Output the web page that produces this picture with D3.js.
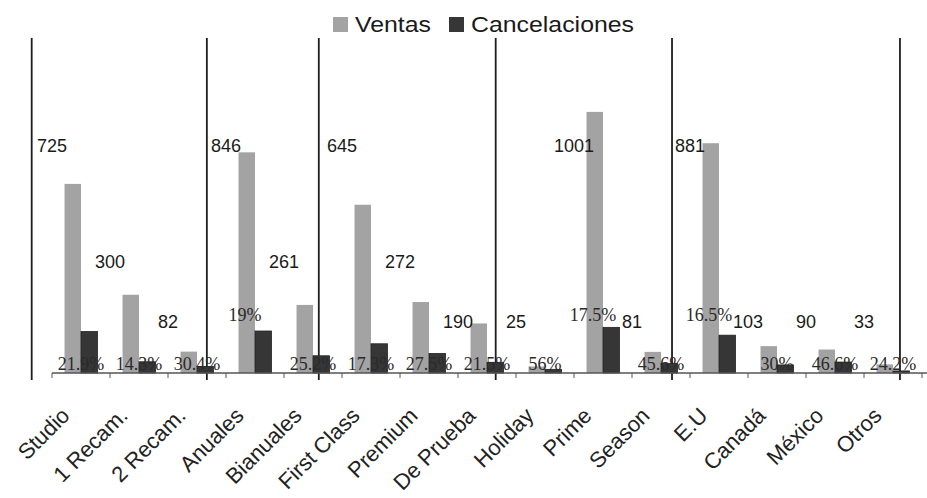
<!DOCTYPE html>
<html>
<head>
<meta charset="utf-8">
<script src="https://cdn.jsdelivr.net/npm/d3@7/dist/d3.min.js"></script>
<style>
  html, body { margin: 0; padding: 0; background: #ffffff; }
  svg { display: block; }
</style>
</head>
<body>
<svg id="chart" width="927" height="498"></svg>
<script>
// Categorías y series
const categorias = ["Studio", "1 Recam.", "2 Recam.", "Anuales", "Bianuales", "First Class",
  "Premium", "De Prueba", "Holiday", "Prime", "Season", "E.U", "Canadá", "México", "Otros"];
const ventas = [725, 300, 82, 846, 261, 645, 272, 190, 25, 1001, 81, 881, 103, 90, 33];
const cancelaciones = [159, 43, 25, 161, 66, 112, 75, 41, 14, 175, 37, 145, 31, 42, 8];
const porcentajes = ["21.9%", "14.3%", "30.4%", "19%", "25.2%", "17.3%", "27.5%", "21.5%",
  "56%", "17.5%", "45.6%", "16.5%", "30%", "46.6%", "24.2%"];
// Límites de grupo, en unidades de categoría
const separadores = [-0.35, 2.67, 4.6, 7.65, 10.69, 14.62];
const series = ["Ventas", "Cancelaciones"];

const svg = d3.select("#chart");
const color = d3.scaleOrdinal().domain(series).range(["#a3a3a3", "#363636"]);

const x = d3.scaleBand().domain(categorias).range([52, 922]).padding(0);
const xs = d3.scaleBand().domain(series).range([0, x.step()]).paddingInner(0).paddingOuter(0.76);
const xu = d3.scaleLinear().domain([0, categorias.length]).range([52, 922]);
const y = d3.scaleLinear().domain([0, 1200]).range([373, 60]);

// Líneas de separación de grupos
svg.append("g").selectAll("line").data(separadores).join("line")
  .attr("x1", d => xu(d)).attr("x2", d => xu(d))
  .attr("y1", 38).attr("y2", 380)
  .attr("stroke", "#1e1e1e").attr("stroke-width", 1.8);

// Barras
const filas = categorias.map((c, i) => ({ c, i, vals: [
  { s: "Ventas", v: ventas[i] }, { s: "Cancelaciones", v: cancelaciones[i] }] }));

const grupos = svg.append("g").selectAll("g").data(filas).join("g")
  .attr("transform", d => `translate(${x(d.c)},0)`);
grupos.selectAll("rect").data(d => d.vals).join("rect")
  .attr("x", d => xs(d.s)).attr("width", xs.bandwidth())
  .attr("y", d => y(d.v)).attr("height", d => y(0) - y(d.v))
  .attr("fill", d => color(d.s))
  .attr("stroke", d => d.s === "Cancelaciones" ? "#222" : "none")
  .attr("stroke-width", 0.8);

// Eje X
const eje = svg.append("g");
eje.append("line").attr("x1", 52).attr("x2", 927).attr("y1", y(0)).attr("y2", y(0))
  .attr("stroke", "#555").attr("stroke-width", 1.3);
eje.selectAll("line.tick").data(d3.range(categorias.length + 1)).join("line")
  .attr("class", "tick")
  .attr("x1", d => xu(d)).attr("x2", d => xu(d))
  .attr("y1", y(0)).attr("y2", y(0) + 5)
  .attr("stroke", "#555").attr("stroke-width", 1);
eje.selectAll("text").data(categorias).join("text")
  .attr("transform", d => `translate(${x(d) + x.bandwidth() / 2 - 10},${y(0) + 44}) rotate(-45)`)
  .attr("text-anchor", "end")
  .attr("font-family", "Liberation Sans, Arial, sans-serif")
  .attr("font-size", 22).attr("fill", "#222")
  .text(d => d);

// Etiquetas de ventas (niveles según magnitud)
const nivel = v => v >= 600 ? 847 : v >= 200 ? 403 : 173;
svg.append("g").selectAll("text").data(filas).join("text")
  .attr("x", d => x(d.c)).attr("y", d => y(nivel(ventas[d.i])))
  .attr("text-anchor", "middle")
  .attr("font-family", "Liberation Sans, Arial, sans-serif")
  .attr("font-size", 18).attr("fill", "#1a1a1a")
  .text(d => ventas[d.i]);

// Porcentaje de cancelación
svg.append("g").selectAll("text").data(filas).join("text")
  .attr("x", d => x(d.c) + x.bandwidth() / 2 + (ventas[d.i] > 800 ? -10 : 0))
  .attr("y", d => ventas[d.i] > 800 ? 321 : 370)
  .attr("text-anchor", "middle")
  .attr("font-family", "Liberation Serif, Times New Roman, serif")
  .attr("font-size", 18).attr("fill", "#2a2a2a")
  .text(d => porcentajes[d.i]);

// Leyenda
const leyenda = svg.append("g");
const posLeyenda = [{ s: "Ventas", x: 333 }, { s: "Cancelaciones", x: 449 }];
const item = leyenda.selectAll("g").data(posLeyenda).join("g")
  .attr("transform", d => `translate(${d.x},17)`);
item.append("rect").attr("width", 15).attr("height", 15).attr("fill", d => color(d.s));
item.append("text")
  .attr("transform", "translate(22,15) scale(1.13,1)")
  .attr("font-family", "Liberation Sans, Arial, sans-serif")
  .attr("font-size", 22).attr("fill", "#1a1a1a")
  .text(d => d.s);
</script>
</body>
</html>
